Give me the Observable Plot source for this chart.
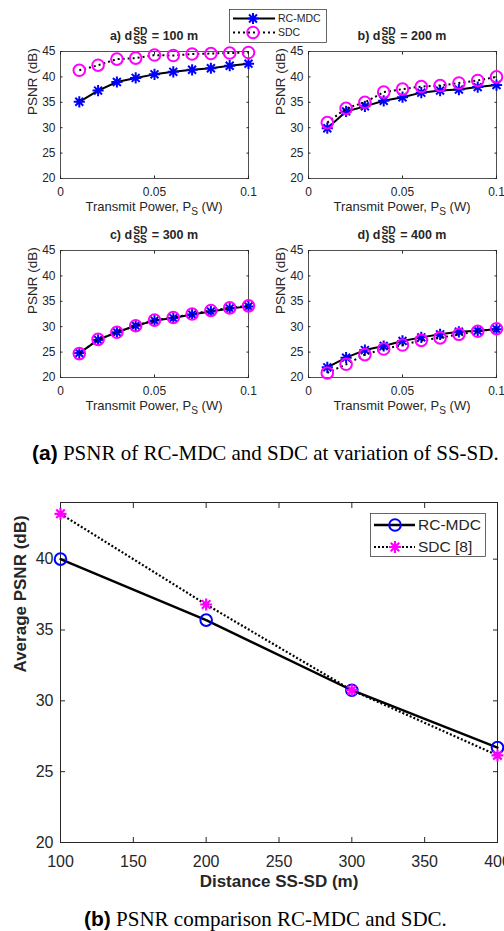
<!DOCTYPE html>
<html>
<head>
<meta charset="utf-8">
<script src="https://cdn.jsdelivr.net/npm/d3@7"></script>
<script src="https://cdn.jsdelivr.net/npm/@observablehq/plot@0.6"></script>
<style>
  html, body { margin: 0; padding: 0; background: #fff; }
  #fig { position: relative; width: 504px; height: 931px; overflow: hidden; background: #fff;
         font-family: "Liberation Sans", Arial, sans-serif; color: #262626; }
  #fig > * { position: absolute; }
  .ttl { font-weight: bold; font-size: 12.5px; line-height: 14px; white-space: nowrap; transform: translateX(-50%); }
  .stk { display: inline-flex; flex-direction: column; font-size: 0.82em; line-height: 0.92; vertical-align: middle; margin: 0 1px; }
  .xlab { font-size: 13px; line-height: 14px; white-space: nowrap; transform: translateX(-50%); }
  .xlab sub { font-size: 0.78em; vertical-align: -0.35em; line-height: 0; }
  .cap { font-family: "Liberation Serif", "Times New Roman", serif; font-size: 21px; line-height: 24px; white-space: nowrap; color: #000; }
  .cap b { font-family: "Liberation Sans", Arial, sans-serif; }
</style>
</head>
<body>
<div id="fig"></div>
<script>
// ---- data -------------------------------------------------------------
const power = [0.01, 0.02, 0.03, 0.04, 0.05, 0.06, 0.07, 0.08, 0.09, 0.1];

const rcMdc100 = [35.1, 37.3, 39.0, 39.8, 40.5, 41.0, 41.4, 41.7, 42.2, 42.6];
const sdc100   = [41.3, 42.3, 43.5, 43.7, 44.3, 44.2, 44.5, 44.6, 44.7, 44.8];
const rcMdc200 = [29.9, 33.2, 34.2, 35.3, 36.0, 36.9, 37.3, 37.5, 38.0, 38.4];
const sdc200   = [31.0, 33.8, 35.0, 37.0, 37.6, 38.1, 38.3, 38.8, 39.3, 40.0];
const rcMdc300 = [24.8, 27.4, 28.9, 30.2, 31.2, 31.7, 32.4, 33.0, 33.6, 34.0];
const sdc300   = [24.7, 27.5, 28.9, 30.2, 31.3, 31.8, 32.5, 33.2, 33.7, 34.1];
const rcMdc400 = [22.0, 23.9, 25.4, 26.2, 27.2, 27.9, 28.5, 29.0, 29.2, 29.5];
const sdc400   = [20.9, 22.6, 24.5, 25.6, 26.4, 27.3, 27.8, 28.5, 29.1, 29.6];

const panelLetters = ["a)", "b)", "c)", "d)"];
const panelDistances = [100, 200, 300, 400];

const distances = [100, 200, 300, 400];
const avgRcMdc = [40.0, 35.7, 30.75, 26.7];
const avgSdc   = [43.2, 36.8, 30.75, 26.15];

const powerTicks = [0, 0.05, 0.1];
const psnrTicks = [20, 25, 30, 35, 40, 45];
const distanceTicks = [100, 150, 200, 250, 300, 350, 400];
const avgPsnrTicks = [20, 25, 30, 35, 40];

const seriesNames = ["RC-MDC", "SDC"];
const seriesNamesAvg = ["RC-MDC", "SDC [8]"];

// ---- styling ----------------------------------------------------------
const AXIS = "#262626";
const BLUE = "#0000ff";
const MAGENTA = "#ff00ff";
const FONT = "'Liberation Sans', Arial, sans-serif";

// eight-spoke star marker (plus + cross)
const asterisk = {
  draw(context, size) {
    const r = Math.sqrt(size / Math.PI);
    const d = r * Math.SQRT1_2;
    context.moveTo(-r, 0); context.lineTo(r, 0);
    context.moveTo(0, -r); context.lineTo(0, r);
    context.moveTo(-d, -d); context.lineTo(d, d);
    context.moveTo(-d, d); context.lineTo(d, -d);
  }
};

const fig = document.getElementById("fig");
function place(node, left, top) {
  node.style.left = left + "px";
  node.style.top = top + "px";
  fig.appendChild(node);
  return node;
}
function htmlNode(cls, html) {
  const div = document.createElement("div");
  div.className = cls;
  div.innerHTML = html;
  return div;
}

// boxed axes with inward ticks on all four sides
function boxAxes(xTicks, yTicks, tick, xFmt, opts) {
  const none = () => "";
  return [
    Plot.frame({stroke: AXIS, strokeWidth: opts.frameWidth}),
    Plot.axisX({ticks: xTicks, tickSize: 0, tickPadding: opts.xPad, tickFormat: xFmt, label: null, fontSize: opts.tickFont}),
    Plot.axisX({ticks: xTicks, tickSize: -tick, tickFormat: none, label: null, stroke: AXIS}),
    Plot.axisX({anchor: "top", ticks: xTicks, tickSize: -tick, tickFormat: none, label: null, stroke: AXIS}),
    Plot.axisY({ticks: yTicks, tickSize: 0, tickPadding: opts.yPad, tickFormat: d => String(d), label: null, fontSize: opts.tickFont}),
    Plot.axisY({ticks: yTicks, tickSize: -tick, tickFormat: none, label: null, stroke: AXIS}),
    Plot.axisY({anchor: "right", ticks: yTicks, tickSize: -tick, tickFormat: none, label: null, stroke: AXIS})
  ];
}

// ---- small panels: PSNR vs transmit power ----------------------------
const panelSeries = [
  [rcMdc100, sdc100], [rcMdc200, sdc200], [rcMdc300, sdc300], [rcMdc400, sdc400]
];
const panelPos = [[0, 0], [248, 0], [0, 199], [248, 199]];

panelSeries.forEach(([rc, sdc], k) => {
  const rows = power.map((p, i) => ({p, rc: rc[i], sdc: sdc[i]}));
  const chart = Plot.plot({
    width: 252, height: 220,
    marginLeft: 60, marginRight: 4, marginTop: 51, marginBottom: 42,
    style: {background: "transparent", fontFamily: FONT, color: AXIS, overflow: "visible"},
    x: {domain: [0, 0.1]},
    y: {domain: [20, 45]},
    marks: [
      ...boxAxes(powerTicks, psnrTicks, 2.5, d => String(d), {frameWidth: 0.8, xPad: 9, yPad: 5, tickFont: 12}),
      Plot.text(["PSNR (dB)"], {text: d => d, frameAnchor: "left", rotate: -90, dx: -28, fontSize: 13.5, fill: AXIS}),
      Plot.line(rows, {x: "p", y: "rc", stroke: "#000", strokeWidth: 2}),
      Plot.dot(rows, {x: "p", y: "rc", symbol: asterisk, r: 5.6, stroke: BLUE, strokeWidth: 2, fill: "none"}),
      Plot.line(rows, {x: "p", y: "sdc", stroke: "#000", strokeWidth: 2, strokeDasharray: "2,3", strokeLinecap: "butt"}),
      Plot.dot(rows, {x: "p", y: "sdc", r: 5.8, stroke: MAGENTA, strokeWidth: 2, fill: "none"})
    ]
  });
  const [left, top] = panelPos[k];
  place(chart, left, top);
  place(htmlNode("ttl",
    `${panelLetters[k]} d<span class="stk"><span>SD</span><span>SS</span></span> = ${panelDistances[k]} m`),
    left + 154, top + 27);
  place(htmlNode("xlab", "Transmit Power, P<sub>S</sub> (W)"), left + 154, top + 200);
});

// legend box: a line sample with its marker, then the series name
function legend(left, top, w, h, rows, font, lineX, markX, textX) {
  const svg = d3.create("svg").attr("width", w).attr("height", h)
    .style("overflow", "visible");
  svg.append("rect").attr("x", 0.5).attr("y", 0.5).attr("width", w - 1).attr("height", h - 1)
    .attr("fill", "#fff").attr("stroke", AXIS).attr("stroke-width", 0.7);
  rows.forEach(r => {
    svg.append("line").attr("x1", lineX[0]).attr("x2", lineX[1]).attr("y1", r.y).attr("y2", r.y)
      .attr("stroke", "#000").attr("stroke-width", r.lineWidth)
      .attr("stroke-dasharray", r.dash).attr("stroke-linecap", "butt");
    svg.append("path").attr("transform", `translate(${markX},${r.y})`)
      .attr("d", d3.symbol(r.symbol, Math.PI * r.r * r.r)())
      .attr("fill", "none").attr("stroke", r.color).attr("stroke-width", r.markWidth);
    svg.append("text").attr("x", textX).attr("y", r.y).attr("dy", "0.35em")
      .attr("font-family", FONT).attr("font-size", font).attr("fill", AXIS).text(r.label);
  });
  place(svg.node(), left, top);
}

legend(229, 9, 98, 34, [
  {y: 9.5, label: seriesNames[0], symbol: asterisk, r: 5.6, color: BLUE, markWidth: 2, lineWidth: 2, dash: null},
  {y: 23.5, label: seriesNames[1], symbol: d3.symbolCircle, r: 5.8, color: MAGENTA, markWidth: 2, lineWidth: 2, dash: "2,3"}
], 10.5, [4, 46], 24, 49);

// ---- caption (a) ------------------------------------------------------
place(htmlNode("cap", "<b>(a)</b> PSNR of RC-MDC and SDC at variation of SS-SD."), 32, 441);

// ---- average PSNR vs distance ----------------------------------------
const avgRows = distances.map((d, i) => ({d, rc: avgRcMdc[i], sdc: avgSdc[i]}));
const big = Plot.plot({
  width: 504, height: 420,
  marginLeft: 60, marginRight: 7, marginTop: 22, marginBottom: 58,
  style: {background: "transparent", fontFamily: FONT, color: AXIS, overflow: "visible"},
  x: {domain: [100, 400]},
  y: {domain: [20, 44]},
  marks: [
    ...boxAxes(distanceTicks, avgPsnrTicks, 5, d => String(d), {frameWidth: 1, xPad: 13, yPad: 7, tickFont: 16}),
    Plot.text(["Average PSNR (dB)"], {text: d => d, frameAnchor: "left", rotate: -90, dx: -40, fontSize: 17, fontWeight: "bold", fill: AXIS}),
    Plot.text(["Distance SS-SD (m)"], {text: d => d, frameAnchor: "bottom", dy: 44, fontSize: 17, fontWeight: "bold", fill: AXIS}),
    Plot.line(avgRows, {x: "d", y: "rc", stroke: "#000", strokeWidth: 2.4}),
    Plot.dot(avgRows, {x: "d", y: "rc", r: 5.8, stroke: BLUE, strokeWidth: 2, fill: "none"}),
    Plot.line(avgRows, {x: "d", y: "sdc", stroke: "#000", strokeWidth: 2.2, strokeDasharray: "2,2", strokeLinecap: "butt"}),
    Plot.dot(avgRows, {x: "d", y: "sdc", symbol: asterisk, r: 6, stroke: MAGENTA, strokeWidth: 2.2, fill: "none"})
  ]
});
place(big, 0, 480);

legend(370, 513, 116, 44, [
  {y: 12, label: seriesNamesAvg[0], symbol: d3.symbolCircle, r: 5.8, color: BLUE, markWidth: 2, lineWidth: 2.4, dash: null},
  {y: 34, label: seriesNamesAvg[1], symbol: asterisk, r: 6, color: MAGENTA, markWidth: 2.2, lineWidth: 2.2, dash: "2,2"}
], 15.5, [4, 45], 25, 48);

// ---- caption (b) ------------------------------------------------------
place(htmlNode("cap", "<b>(b)</b> PSNR comparison RC-MDC and SDC."), 84, 907);
</script>
</body>
</html>
